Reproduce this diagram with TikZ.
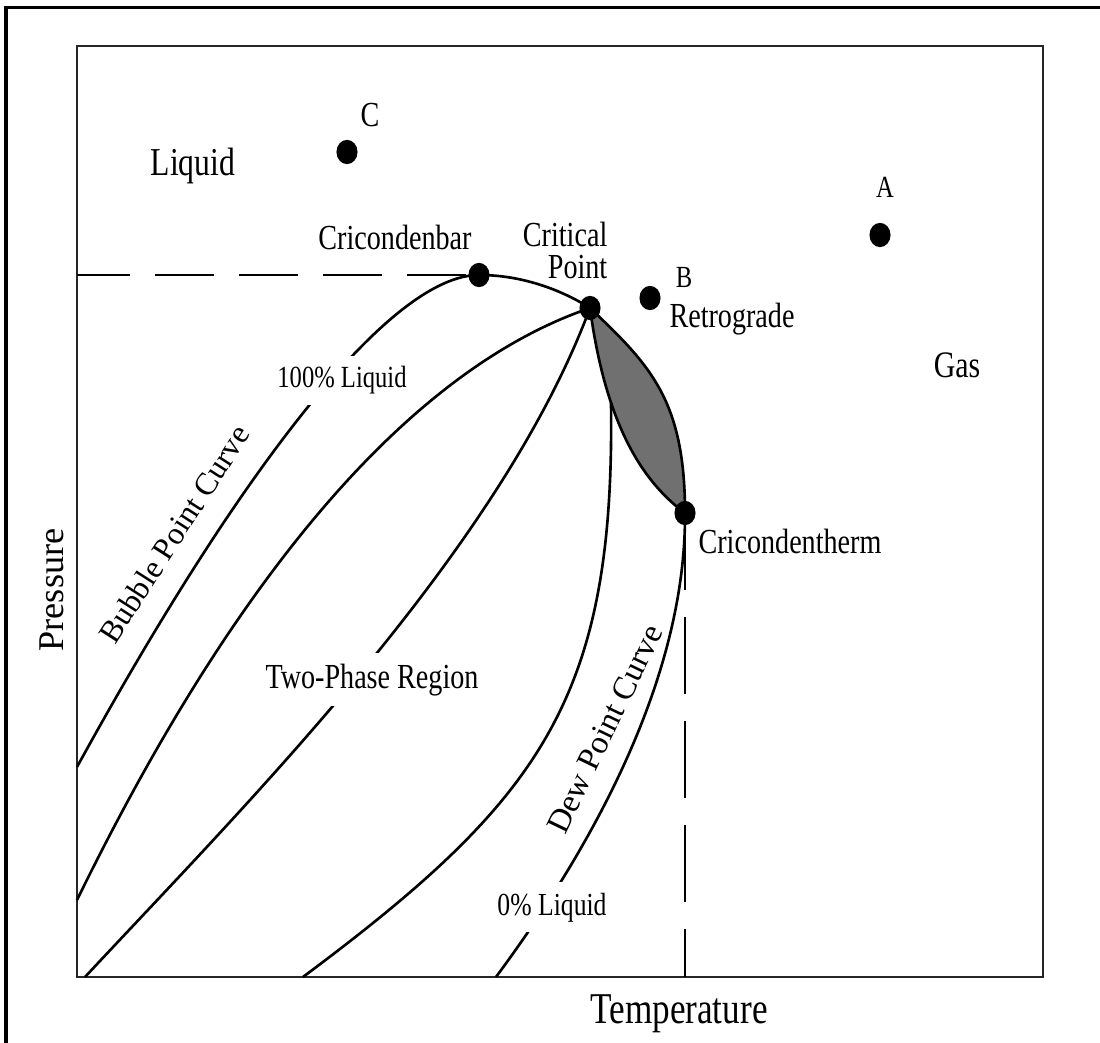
\documentclass[tikz,border=0pt]{standalone}
\usepackage{fontspec}
\setmainfont{Liberation Serif}
\usetikzlibrary{shapes.geometric}
\definecolor{lobe}{RGB}{112,112,112}
\newcommand{\vs}[1]{\scalebox{1}[1.25]{#1}}
\begin{document}
\begin{tikzpicture}[x=0.01cm,y=-0.01cm,
  curve/.style={line width=0.75pt, black, line join=round},
  boxline/.style={line width=0.8pt, black!85},
  dashline/.style={line width=0.65pt, black},
  dot/.style={ellipse, fill=black, draw=none, inner sep=0pt, minimum width=6pt, minimum height=6.9pt},
  lbl/.style={inner sep=0pt, anchor=base, text=black},
  gaplbl/.style={fill=white, anchor=base, inner xsep=1pt, inner ysep=3pt, text=black},
  f7/.style={font=\fontsize{7}{8.4}\selectfont},
  f8/.style={font=\fontsize{8}{9.6}\selectfont}]
\useasboundingbox (0,0) rectangle (1100,1043);
\fill[white] (0,0) rectangle (1100,1043);

% key positions
\coordinate (BL) at (77,977);
\coordinate (TR) at (1043,46);
\coordinate (pCP) at (590,308);
\coordinate (pCB) at (479,275);
\coordinate (pCT) at (685,513);
\coordinate (pA) at (880,235);
\coordinate (pB) at (650,298);
\coordinate (pC) at (347,152);

% frames
\draw[line width=1.1pt] (6,1043) -- (6,7.5) -- (1100,7.5);
\draw[boxline] (BL) rectangle (TR);

% retrograde lobe
\filldraw[curve, fill=lobe] (pCP) .. controls (650,365) and (685,400) .. (pCT)
  .. controls (640,480) and (605,420) .. (pCP) -- cycle;

% bubble point curve (100% liquid)
\draw[curve] (77,767) .. controls (240,470) and (390,275) .. (pCB)
  .. controls (525,275) and (565,292) .. (pCP);
% quality lines
\draw[curve] (77,900) .. controls (170,710) and (350,390) .. (pCP);
\draw[curve] (85,977) .. controls (250,800) and (500,550) .. (pCP);
\draw[curve] (611,403) .. controls (615,700) and (540,800) .. (303,977);
% dew point curve (0% liquid)
\draw[curve] (pCT) .. controls (686,680) and (590,850) .. (496,977);

% dashed lines
\draw[dashline, dash pattern=on 16.8pt off 7.1pt, dash phase=1.7pt] (BL |- pCB) -- (pCB);
\draw[dashline, dash pattern=on 21.9pt off 7.7pt] (pCT) -- (pCT |- BL);

% labels
\node[lbl, font=\fontsize{9}{11}\selectfont] (liq) at (193,176) {\vs{Liquid}};
\node[lbl, f8] (lC) at (370,127) {\vs{C}};
\node[lbl, f7] (lA) at (885,198) {\vs{A}};
\node[lbl, f7] (lB) at (684,288) {\vs{B}};
\node[lbl, f8] (retro) at (732,328) {\vs{Retrograde}};
\node[lbl, font=\fontsize{8.5}{10}\selectfont] (gas) at (957,378) {\vs{Gas}};
\node[lbl, f8] (cbar) at (395,250) {\vs{Cricondenbar}};
\node[lbl, anchor=base east, font=\fontsize{8}{7.3}\selectfont] (crit) at (608,279)
  {\vs{\begin{tabular}[b]{@{}r@{}}Critical\\Point\end{tabular}}};
\node[gaplbl, f7] (hundred) at (342,388) {\vs{100\% Liquid}};
\node[gaplbl, f8] (twophase) at (372,688) {\vs{Two-Phase Region}};
\node[gaplbl, font=\fontsize{7.3}{8.8}\selectfont] (zero) at (552,915) {\vs{0\% Liquid}};
\node[lbl, f8] (ctherm) at (790,553) {\vs{Cricondentherm}};
\node[lbl, font=\fontsize{10}{12}\selectfont] (temp) at (679,1023) {\vs{Temperature}};
\node[lbl, rotate=90, font=\fontsize{10.3}{12}\selectfont] (press) at (63,590) {Pressure};
\node[inner sep=0pt, rotate=57.3, font=\fontsize{9}{11}\selectfont] (bpc) at (174,534) {Bubble Point Curve};
\node[inner sep=0pt, rotate=64.3, font=\fontsize{9.3}{11}\selectfont] (dpc) at (605,729) {Dew Point Curve};

% points
\node[dot] (cb) at (pCB) {};
\node[dot] (cp) at (pCP) {};
\node[dot] (ct) at (pCT) {};
\node[dot] (A) at (pA) {};
\node[dot] (B) at (pB) {};
\node[dot] (C) at (pC) {};
\end{tikzpicture}
\end{document}
